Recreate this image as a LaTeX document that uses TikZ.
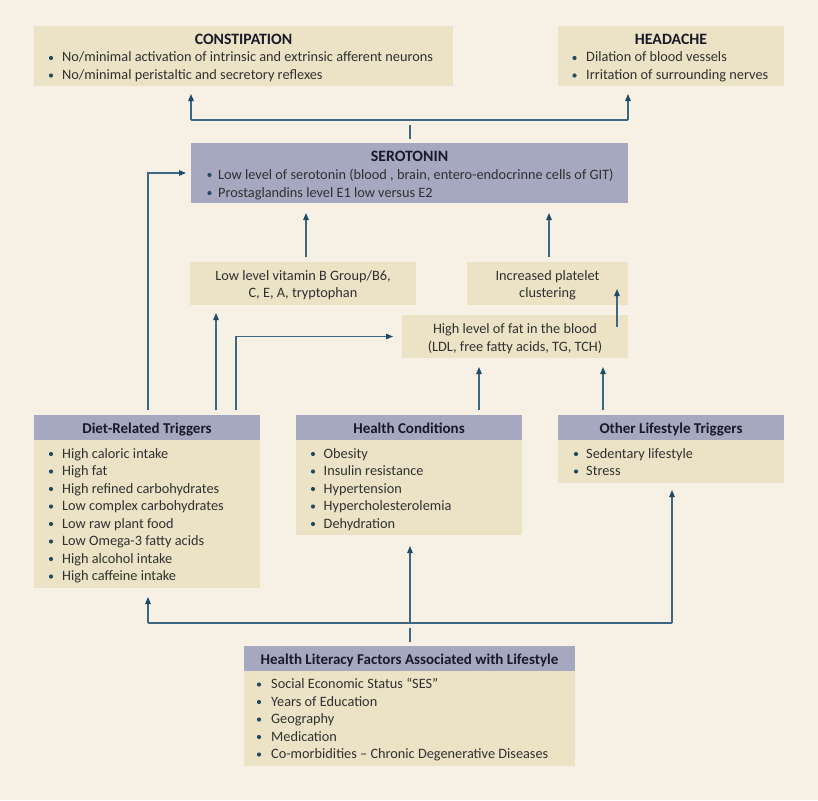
\documentclass[tikz,border=0pt]{standalone}
\usepackage{fontspec}
\setmainfont{Carlito}
\usetikzlibrary{arrows.meta,calc}
\definecolor{bgc}{RGB}{246,240,229}
\definecolor{beige}{RGB}{236,227,198}
\definecolor{lav}{RGB}{166,168,192}
\definecolor{lnc}{RGB}{62,104,130}
\definecolor{tipc}{RGB}{30,76,104}
\definecolor{bulc}{RGB}{35,75,95}
\definecolor{txtc}{RGB}{48,48,48}
\definecolor{ttlc}{RGB}{25,25,40}
% bullet x, text x, baseline y, text, name
\newcommand\bl[5]{%
  \fill[bulc] (#1,#3-4) circle (2.1pt);
  \node[bodytxt, anchor=base west] (#5) at (#2,#3) {#4};}
\begin{document}
\begin{tikzpicture}[x=1pt,y=-1pt,
  bbox/.style={fill=beige, draw=none, inner sep=0pt, outer sep=0pt, anchor=north west},
  lbox/.style={fill=lav, draw=none, inner sep=0pt, outer sep=0pt, anchor=north west},
  bodytxt/.style={inner sep=0pt, text=txtc, font=\fontsize{14.3}{17}\selectfont},
  ctxt/.style={inner sep=0pt, text=txtc, font=\fontsize{14.3}{17}\selectfont, anchor=base},
  ttl/.style={inner sep=0pt, text=ttlc, font=\fontsize{15}{17}\selectfont\bfseries, anchor=base},
  cttl/.style={inner sep=0pt, text=ttlc, font=\fontsize{15.8}{17}\selectfont\bfseries, anchor=base},
  ln/.style={draw=lnc, line width=1.1pt},
  arr/.style={draw=lnc, line width=1.1pt, -{Triangle[length=7pt,width=5.5pt,fill=tipc,color=tipc]}}
]
\fill[bgc] (0,0) rectangle (818,800);
\useasboundingbox (0,0) rectangle (818,800);

% ---------- boxes ----------
\node[bbox, minimum width=419pt, minimum height=60pt] (const) at (34,26) {};
\node[bbox, minimum width=226pt, minimum height=60pt] (head) at (558,26) {};
\node[lbox, minimum width=437pt, minimum height=60pt] (sero) at (191,143) {};
\node[bbox, minimum width=226pt, minimum height=43pt] (vit) at (190,262) {};
\node[bbox, minimum width=161pt, minimum height=43pt] (plat) at (467,262) {};
\node[bbox, minimum width=226pt, minimum height=43pt] (fat) at (402,315) {};

\node[bbox, minimum width=226pt, minimum height=173pt] (diet) at (34,415) {};
\node[lbox, minimum width=226pt, minimum height=25pt] (dieth) at (34,415) {};
\node[bbox, minimum width=226pt, minimum height=120pt] (hc) at (296,415) {};
\node[lbox, minimum width=226pt, minimum height=25pt] (hch) at (296,415) {};
\node[bbox, minimum width=226pt, minimum height=68pt] (oth) at (558,415) {};
\node[lbox, minimum width=226pt, minimum height=25pt] (othh) at (558,415) {};
\node[bbox, minimum width=331pt, minimum height=120pt] (hl) at (244,646) {};
\node[lbox, minimum width=331pt, minimum height=25pt] (hlh) at (244,646) {};

% ---------- texts ----------
\node[cttl] (constt) at (243.5,44.5) {CONSTIPATION};
\bl{51}{62}{62}{No/minimal activation of intrinsic and extrinsic afferent neurons}{c1}
\bl{51}{62}{79.5}{No/minimal peristaltic and secretory reflexes}{c2}

\node[cttl] (headt) at (671,44.5) {HEADACHE};
\bl{574.5}{586}{62}{Dilation of blood vessels}{h1}
\bl{574.5}{586}{79.5}{Irritation of surrounding nerves}{h2}

\node[cttl] (serot) at (409.5,161.5) {SEROTONIN};
\bl{209.5}{218}{179}{Low level of serotonin (blood , brain, entero-endocrinne cells of GIT)}{s1}
\bl{209.5}{218}{197}{Prostaglandins level E1 low versus E2}{s2}

\node[ctxt] (vitt1) at (303,280) {Low level vitamin B Group/B6,};
\node[ctxt] (vitt2) at (303,297) {C, E, A, tryptophan};
\node[ctxt] (platt1) at (547.5,280) {Increased platelet};
\node[ctxt] (platt2) at (547.5,297) {clustering};
\node[ctxt] (fatt1) at (515,333.5) {High level of fat in the blood};
\node[ctxt] (fatt2) at (515,351) {(LDL, free fatty acids, TG, TCH)};

\node[ttl] (dieht) at (147,433) {Diet-Related Triggers};
\bl{51}{62}{458}{High caloric intake}{d1}
\bl{51}{62}{475.5}{High fat}{d2}
\bl{51}{62}{493}{High refined carbohydrates}{d3}
\bl{51}{62}{510.5}{Low complex carbohydrates}{d4}
\bl{51}{62}{528}{Low raw plant food}{d5}
\bl{51}{62}{545.5}{Low Omega-3 fatty acids}{d6}
\bl{51}{62}{563}{High alcohol intake}{d7}
\bl{51}{62}{580.5}{High caffeine intake}{d8}

\node[ttl] (hcht) at (409,433) {Health Conditions};
\bl{313}{323.5}{458}{Obesity}{k1}
\bl{313}{323.5}{475.5}{Insulin resistance}{k2}
\bl{313}{323.5}{493}{Hypertension}{k3}
\bl{313}{323.5}{510.5}{Hypercholesterolemia}{k4}
\bl{313}{323.5}{528}{Dehydration}{k5}

\node[ttl] (othht) at (671,433) {Other Lifestyle Triggers};
\bl{576}{586}{458}{Sedentary lifestyle}{o1}
\bl{576}{586}{475.5}{Stress}{o2}

\node[ttl] (hlht) at (409.5,664) {Health Literacy Factors Associated with Lifestyle};
\bl{259}{271}{688.5}{Social Economic Status “SES”}{l1}
\bl{259}{271}{706}{Years of Education}{l2}
\bl{259}{271}{723.5}{Geography}{l3}
\bl{259}{271}{741}{Medication}{l4}
\bl{259}{271}{758.5}{Co-morbidities – Chronic Degenerative Diseases}{l5}

% ---------- connectors ----------
\coordinate (tbl) at (191,120);
\coordinate (tbm) at (410,120);
\coordinate (tbr) at (628,120);
\draw[ln] (tbl) -- (tbr);
\draw[ln, shorten <=4pt, shorten >=5pt] (sero.north -| tbm) -- (tbm);
\draw[arr, shorten >=8pt] (tbl) -- (const.south -| tbl);
\draw[arr, shorten >=8pt] (tbr) -- (head.south -| tbr);

\coordinate (d1x) at (148,415);
\coordinate (d2x) at (216,415);
\coordinate (d3x) at (236,415);
\draw[arr, shorten <=5pt, shorten >=5pt] (d1x) |- (sero.west);
\draw[arr, shorten <=5pt, shorten >=8pt] (d2x) -- (vit.south -| d2x);
\draw[arr, shorten <=5pt, shorten >=9pt] (d3x) |- (fat.west);

\coordinate (h1x) at (479,415);
\coordinate (o1x) at (603,415);
\draw[arr, shorten <=5pt, shorten >=9pt] (h1x) -- (fat.south -| h1x);
\draw[arr, shorten <=5pt, shorten >=9pt] (o1x) -- (fat.south -| o1x);

\coordinate (fp1) at (617,327);
\coordinate (fp2) at (617,289);
\draw[arr] (fp1) -- (fp2);

\coordinate (v1x) at (306,262);
\coordinate (p1x) at (549,262);
\draw[arr, shorten <=5pt, shorten >=10pt] (v1x) -- (sero.south -| v1x);
\draw[arr, shorten <=5pt, shorten >=10pt] (p1x) -- (sero.south -| p1x);

\coordinate (bbl) at (148,623);
\coordinate (bbm) at (410,623);
\coordinate (bbr) at (672,623);
\draw[ln] (bbl) -- (bbr);
\draw[ln, shorten <=4pt, shorten >=5pt] (hl.north -| bbm) -- (bbm);
\draw[arr, shorten >=9pt] (bbl) -- (diet.south -| bbl);
\draw[arr, shorten >=11pt] (bbm) -- (hc.south -| bbm);
\draw[arr, shorten >=7pt] (bbr) -- (oth.south -| bbr);
\end{tikzpicture}
\end{document}
